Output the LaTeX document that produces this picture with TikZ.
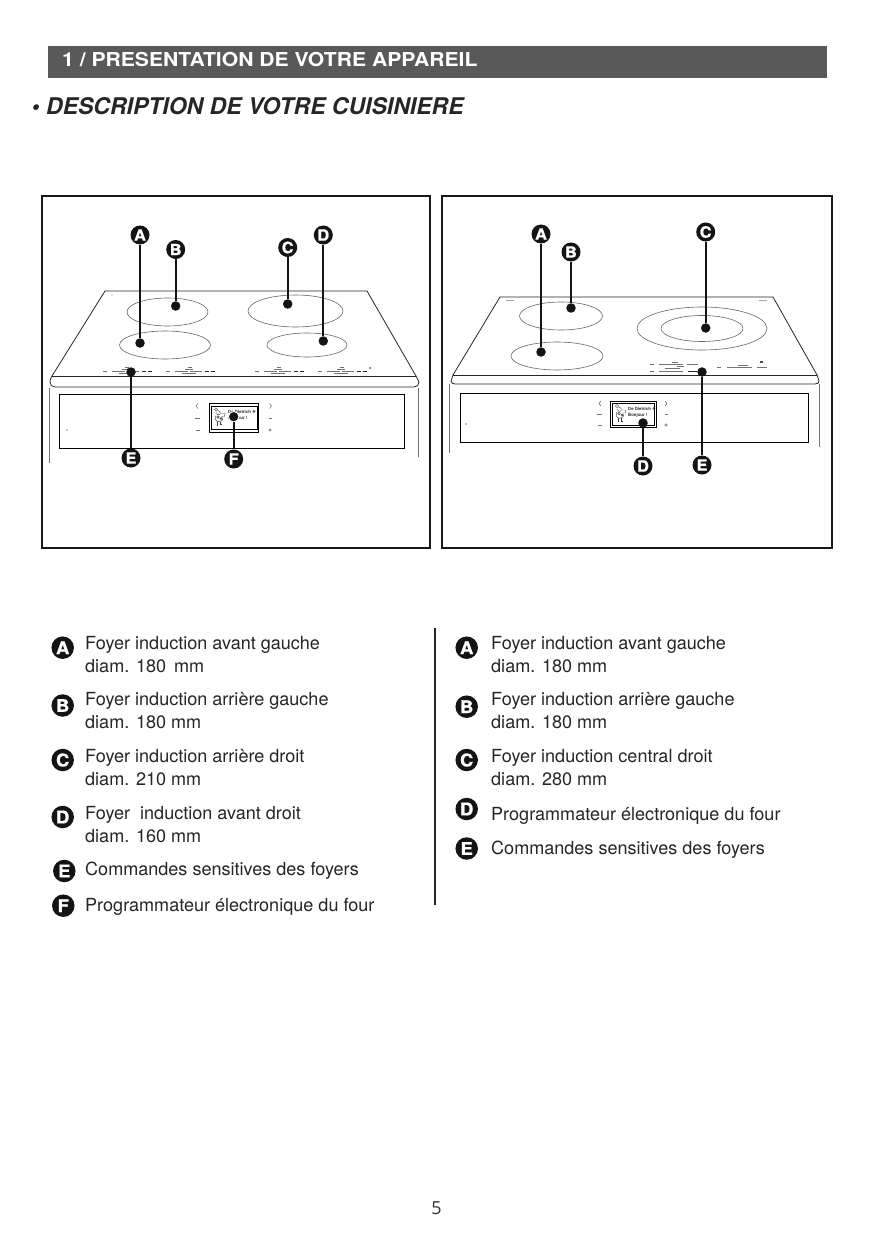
\documentclass[tikz,border=0pt]{standalone}
\usepackage{fontspec}
\setmainfont{TeX Gyre Heros}
\newfontfamily\pagefont{Open Sans}
\newfontfamily\symfont{DejaVu Sans}
\newfontfamily\headfont[BoldFeatures={FakeStretch=1.1}]{TeX Gyre Heros}
\newfontfamily\markfont[BoldFeatures={FakeBold=1.2,FakeStretch=1.05}]{TeX Gyre Heros}
\tikzset{
  frame/.style={draw=black!90,line width=1.6pt},
  plate/.style={draw=black!85,line width=0.8pt,line join=round},
  bodyline/.style={draw=black!55,line width=0.8pt},
  panel/.style={draw=black,line width=0.9pt},
  burner/.style={draw=black!60,line width=0.6pt},
  marker/.style={circle,fill=black!92,text=white,inner sep=0pt,minimum size=19pt,font=\markfont\fontsize{15.5}{15.5}\selectfont\bfseries},
  legmark/.style={circle,fill=black!92,text=white,inner sep=0pt,minimum size=22.5pt,font=\markfont\fontsize{17.5}{17.5}\selectfont\bfseries},
  spot/.style={circle,fill=black!92,inner sep=0pt,minimum size=9.5pt},
  halo/.style={draw=white,line width=0.9pt,minimum size=10.5pt},
  leader/.style={draw=black!92,line width=1.7pt},
  legtext/.style={anchor=base west,inner sep=0pt,align=left,text=black!85,font=\fontsize{18.05}{22.7}\selectfont},
  tick/.style={draw=black!55,line width=0.6pt},
  tickb/.style={draw=black!85,line width=1pt},
  disptext/.style={anchor=base west,inner sep=0pt,text=black!85,font=\fontsize{4.3}{5}\selectfont\bfseries},
}
\newcommand{\ctrlzone}[2]{%
  \begin{scope}[shift={(#1,#2)}]
    \draw[tick] (0,0)--(4,0) (9,0)--(22,0) (24,0)--(36,0);
    \draw[tick] (19,-2)--(27,-2) (22,-4)--(26,-4) (16,2)--(30,2);
    \draw[tickb] (39,0.5)--(43,0.5) (45,0.5)--(49,0.5);
  \end{scope}}
\newcommand{\chef}[2]{%
  \begin{scope}[shift={(#1,#2)},black!75,line width=0.45pt]
    \draw (2,2) circle (1.6);
    \draw (3.5,3) .. controls (6,3) and (7,5) .. (6,7) .. controls (4,8) and (2,7) .. (2.5,5);
    \draw (7,6) -- (11,6) -- (10.5,9) -- (7,9);
    \draw (2,8) .. controls (0,10) and (1,13) .. (3,14) .. controls (6,15) and (9,13) .. (9,10);
    \draw (4,9.5) circle (1.3) (7,11) circle (1);
    \draw (3,14) -- (3,18) (6,14) -- (6,17) -- (8,17);
  \end{scope}}
\begin{document}
\begin{tikzpicture}[x=1pt,y=-1pt]
\useasboundingbox (0,0) rectangle (875,1241);
\fill[white] (0,0) rectangle (875,1241);
% header
\node[fill=black!65,minimum width=779pt,minimum height=32pt,inner sep=0pt,anchor=north west] (bar) at (48,46) {};
\node[anchor=west,inner sep=0pt,text=white,font=\headfont\fontsize{19.2}{20}\selectfont\bfseries] (head) at (62,59.5) {1 / PRESENTATION DE VOTRE APPAREIL};
\node[anchor=west,inner sep=0pt,text=black!85,font=\fontsize{23}{24}\selectfont\bfseries\itshape] (title) at (31.5,106) {• DESCRIPTION DE VOTRE CUISINIERE};
% frames
\draw[frame] (42,196) rectangle (430,548);
\draw[frame] (442,196) rectangle (832,548);
% ---- left cooker
\draw[bodyline] (49,388)--(49,463);
\draw[bodyline] (418,388)--(418,457);
\draw[plate] (52,376)--(105,291)--(367,291)--(416,376);
\draw[plate] (52,376)--(416,376);
\draw[plate] (52,376) .. controls (50,379) and (50,382) .. (50,382) .. controls (50,385) and (52,387) .. (55,387) -- (414,387) .. controls (417,387) and (419,385) .. (419,382) -- (416,376);
\draw[panel] (59,394) rectangle (404,448);
\draw[panel] (209,403) rectangle (258,432);
\draw[panel] (211,406) rectangle (257,429);
\draw[burner] (167.5,312) ellipse (40.5 and 14);
\draw[burner] (165,345) ellipse (45.5 and 14);
\draw[burner] (295.5,311) ellipse (47.5 and 16);
\draw[burner] (307,345) ellipse (40 and 12);
\fill[black!50] (112,295) circle (0.7);
\ctrlzone{103}{371}
\ctrlzone{166}{371}
\ctrlzone{255}{371}
\ctrlzone{318}{371}
\fill[black!70] (370,368) circle (1);
\fill[black] (67,430) circle (0.7);
\draw[tick] (198,403.5)--(196,406)--(198,408.5) (269.5,403.5)--(271.5,406)--(269.5,408.5);
\draw[tick] (195,418)--(200,418) (269,418)--(272,418) (196,430)--(200,430);
\draw[tick] (270,430) circle (1.3);
\chef{214}{407.5}
\node[disptext] (ld1) at (228,413.3) {De Dietrich {\symfont ❖}};
\node[disptext] (ld2) at (228,419) {Bonjour !};
% markers left
\node[spot] (lAd) at (140,343) {};
\node[spot] (lBd) at (175.7,306) {};
\node[spot] (lCd) at (287.7,304) {};
\node[spot] (lDd) at (323.3,341) {};
\node[spot] (lEd) at (131,372) {};
\node[spot,halo,fill=black!92] (lFd) at (233.7,416.7) {};
\node[marker] (lA) at (140,235) {A};
\node[marker] (lB) at (175.7,249.5) {B};
\node[marker] (lC) at (287.7,247.5) {C};
\node[marker] (lD) at (323.3,235) {D};
\node[marker] (lE) at (131,458) {E};
\node[marker] (lF) at (233.7,459) {F};
\foreach \n in {A,B,C,D,E,F}{\draw[leader] (l\n) -- (l\n d);}
% ---- right cooker
\draw[bodyline] (449,384)--(449,453);
\draw[bodyline] (819,384)--(819,447);
\draw[plate] (453,375)--(500,297)--(773,297)--(817,375);
\draw[plate] (453,375)--(817,375);
\draw[plate] (453,375) -- (451,381) .. controls (451,383) and (453,384) .. (455,384) -- (815,384) .. controls (818,384) and (819,383) .. (819,381) -- (817,375);
\draw[panel] (460,393) rectangle (808,442);
\draw[panel] (610,401) rectangle (656,427);
\draw[panel] (612,403) rectangle (654,425);
\draw[burner] (561,316) ellipse (41.5 and 14);
\draw[burner] (557,356) ellipse (46 and 14);
\draw[burner] (702,328.5) ellipse (65 and 21.5);
\draw[burner] (702,328.5) ellipse (41 and 13);
\draw[draw=black!35,line width=0.6pt] (506,300.5)--(514,300.5) (759,300.5)--(767,300.5);
\draw[tick] (650,364)--(654,364) (659,364)--(683,364) (687,364)--(698,364) (672,362)--(678,362);
\draw[tick] (650,371)--(654,371) (659,371)--(683,371) (677,366)--(684,366) (665,368)--(680,368);
\draw[tickb] (688,371.5)--(697,371.5);
\draw[tick] (717,367)--(721,367) (727,367)--(752,367) (757,367)--(767,367) (738,365)--(748,365);
\fill[black!70] (760,361) rectangle (763,362.5);
\fill[black] (466,424) circle (0.7);
\draw[tick] (601,401)--(599,403.5)--(601,406) (665,401)--(667,403.5)--(665,406);
\draw[tick] (597,414)--(602,414) (665,414)--(668,414) (598,425)--(602,425);
\draw[tick] (666,425) circle (1.3);
\chef{615}{404}
\node[disptext] (rd1) at (628,410.5) {De Dietrich {\symfont ❖}};
\node[disptext] (rd2) at (628,416.5) {Bonjour !};
% markers right
\node[spot] (rAd) at (541,352) {};
\node[spot] (rBd) at (571,308) {};
\node[spot] (rCd) at (705.7,328) {};
\node[spot] (rDd) at (643,423) {};
\node[spot] (rEd) at (702,372) {};
\node[marker] (rA) at (541,234) {A};
\node[marker] (rB) at (571,252) {B};
\node[marker] (rC) at (705.7,232) {C};
\node[marker] (rD) at (643,466) {D};
\node[marker] (rE) at (702,465) {E};
\foreach \n in {A,B,C,D,E}{\draw[leader] (r\n) -- (r\n d);}
% ---- legends
\coordinate (divt) at (435,628);
\coordinate (divb) at (435,905);
\draw[draw=black!85,line width=1.5pt] (divt) -- (divb);
\node[legmark] (kA) at (62.7,647.7) {A};
\node[legmark] (kB) at (62.7,705.5) {B};
\node[legmark] (kC) at (62.7,760) {C};
\node[legmark] (kD) at (62.7,817) {D};
\node[legmark] (kE) at (64.3,871) {E};
\node[legmark] (kF) at (63.3,905.7) {F};
\node[legtext] (tA) at (85,672) {Foyer induction avant gauche\\diam. 180 \,mm};
\node[legtext] (tB) at (85,728.5) {Foyer induction arrière gauche\\diam. 180 mm};
\node[legtext] (tC) at (85,785.5) {Foyer induction arrière droit\\diam. 210 mm};
\node[legtext] (tD) at (85,842.5) {Foyer \ induction avant droit\\diam. 160 mm};
\node[legtext] (tE) at (85,875.7) {Commandes sensitives des foyers};
\node[legtext] (tF) at (85,911) {Programmateur électronique du four};
\node[legmark] (mA) at (466.7,647.7) {A};
\node[legmark] (mB) at (466.7,706.7) {B};
\node[legmark] (mC) at (466.7,760) {C};
\node[legmark] (mD) at (466.7,809) {D};
\node[legmark] (mE) at (466.7,848.5) {E};
\node[legtext] (uA) at (491,672) {Foyer induction avant gauche\\diam. 180 mm};
\node[legtext] (uB) at (491,728.5) {Foyer induction arrière gauche\\diam. 180 mm};
\node[legtext] (uC) at (491,785.5) {Foyer induction central droit\\diam. 280 mm};
\node[legtext] (uD) at (491,820) {Programmateur électronique du four};
\node[legtext] (uE) at (491,854) {Commandes sensitives des foyers};
\node[inner sep=0pt,text=black!80,font=\pagefont\fontsize{18}{18}\selectfont] (page) at (436.5,1208) {5};
\end{tikzpicture}
\end{document}
